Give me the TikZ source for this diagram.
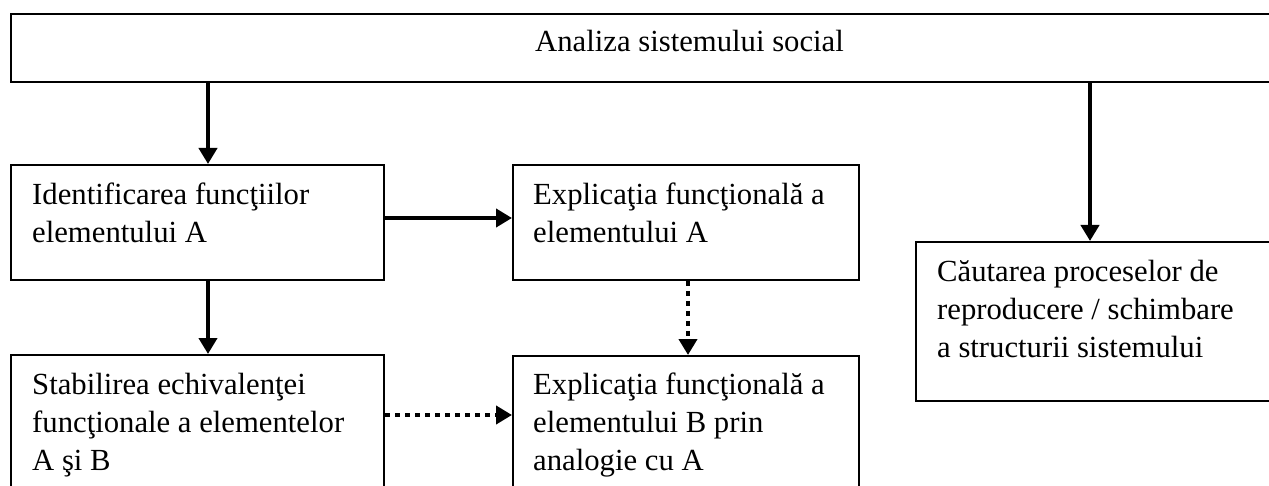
\documentclass[tikz,border=0pt]{standalone}
\usepackage{fontspec}
\setmainfont{Liberation Serif}
\usetikzlibrary{arrows.meta}

\tikzset{
  stepbox/.style={draw, line width=2pt, inner sep=0pt, anchor=north west},
  % texts are placed by the baseline of their last line
  boxtext/.style={inner sep=0pt, anchor=base west, align=left,
    font=\fontsize{30.7}{38}\selectfont},
  solidarrow/.style={line width=4.5pt, -{Triangle[length=16pt,width=18pt]}},
  dotarrow/.style={line width=4.5pt, dash pattern=on 5pt off 5pt,
    -{Triangle[length=16pt,width=18pt]}},
}

\begin{document}
\begin{tikzpicture}[x=1pt, y=-1pt]
  \useasboundingbox (0,0) rectangle (1269,486);
  \clip (0,0) rectangle (1269,486);
  \fill[white] (0,0) rectangle (1269,486);

  % boxes (some run past the page edge)
  \node[stepbox, minimum width=1260pt, minimum height=68pt] (top) at (10,13) {};
  \node[stepbox, minimum width=373pt, minimum height=115pt] (b1) at (10,164) {};
  \node[stepbox, minimum width=346pt, minimum height=115pt] (b2) at (512,164) {};
  \node[stepbox, minimum width=355pt, minimum height=159pt] (b3) at (915,241) {};
  \node[stepbox, minimum width=373pt, minimum height=140pt] (b4) at (10,354) {};
  \node[stepbox, minimum width=346pt, minimum height=140pt] (b5) at (512,355) {};

  % texts
  \node[boxtext] (t0) at (535,52) {Analiza sistemului social};
  \node[boxtext] (t1) at (32,243) {Identificarea funcţiilor\\elementului A};
  \node[boxtext] (t2) at (533,243) {Explicaţia funcţională a\\elementului A};
  \node[boxtext] (t3) at (937,357) {Căutarea proceselor de\\reproducere / schimbare\\a structurii sistemului};
  \node[boxtext] (t4) at (32,470) {Stabilirea echivalenţei\\funcţionale a elementelor\\A şi B};
  \node[boxtext] (t5) at (533,470) {Explicaţia funcţională a\\elementului B prin\\analogie cu A};

  % connector positions
  \coordinate (xl) at (208,0);
  \coordinate (xr) at (1090,0);
  \coordinate (xm) at (688,0);
  \coordinate (yu) at (0,218);
  \coordinate (yd) at (0,415);

  % connectors
  \draw[solidarrow] (top.south -| xl) -- (b1.north -| xl);
  \draw[solidarrow] (top.south -| xr) -- (b3.north -| xr);
  \draw[solidarrow] (b1.east |- yu) -- (b2.west |- yu);
  \draw[solidarrow] (b1.south -| xl) -- (b4.north -| xl);
  \draw[dotarrow] (b2.south -| xm) -- (b5.north -| xm);
  \draw[dotarrow] (b4.east |- yd) -- (b5.west |- yd);
\end{tikzpicture}
\end{document}
